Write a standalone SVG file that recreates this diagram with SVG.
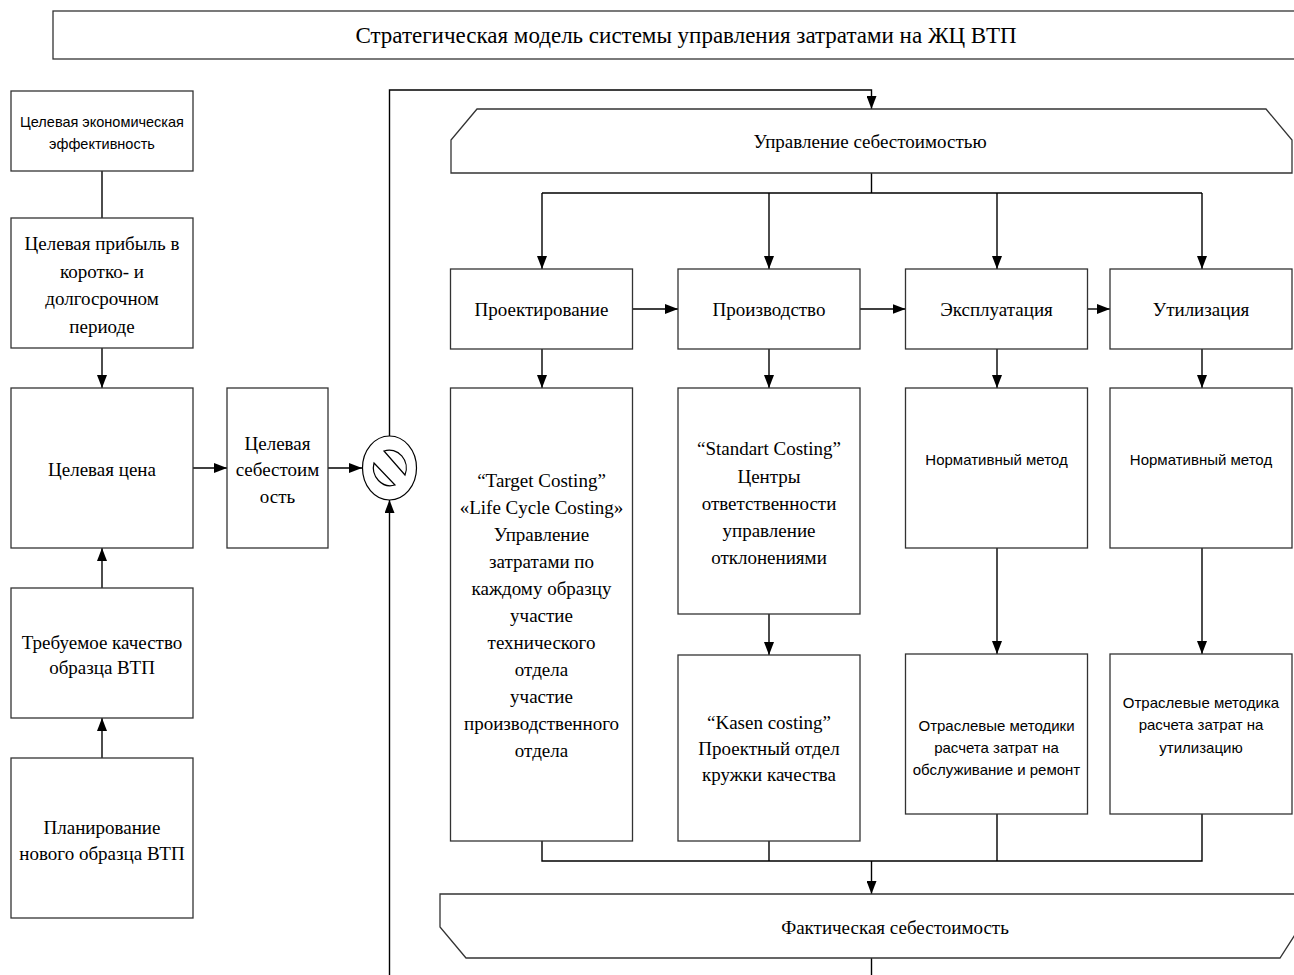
<svg xmlns="http://www.w3.org/2000/svg" width="1294" height="975" viewBox="0 0 1294 975">
<defs>
<style>
.b{fill:#fff;stroke:#333;stroke-width:1.3}
.c{fill:none;stroke:#000;stroke-width:1.4}
.s{font-family:"Liberation Serif","Times New Roman",serif;font-size:19px;fill:#000;text-anchor:middle;dominant-baseline:central}
.n{font-family:"Liberation Sans",Arial,sans-serif;font-size:15px;fill:#000;text-anchor:middle;dominant-baseline:central}
</style>
<marker id="a" markerUnits="userSpaceOnUse" markerWidth="13" markerHeight="10" refX="13" refY="5" orient="auto">
<path d="M0,0 L13,5 L0,10 Z" fill="#000"/>
</marker>
</defs>
<rect width="1294" height="975" fill="#fff"/>

<g id="title">
<rect class="b" x="53" y="11" width="1260" height="48"/>
<text class="s" x="686" y="35" style="font-size:23px">Стратегическая модель системы управления затратами на ЖЦ ВТП</text>
</g>

<g id="connectors">
<path class="c" d="M102,171 V218"/>
<path class="c" d="M102,348 V388" marker-end="url(#a)"/>
<path class="c" d="M102,588 V548" marker-end="url(#a)"/>
<path class="c" d="M102,758 V718" marker-end="url(#a)"/>
<path class="c" d="M193,468 H227" marker-end="url(#a)"/>
<path class="c" d="M328,468 H362" marker-end="url(#a)"/>
<path class="c" d="M389.5,436 V90 H871.5 V109" marker-end="url(#a)"/>
<path class="c" d="M389.5,975 V500" marker-end="url(#a)"/>
<path class="c" d="M871.5,173 V193 M542,193 H1202"/>
<path class="c" d="M542,193 V269" marker-end="url(#a)"/>
<path class="c" d="M769,193 V269" marker-end="url(#a)"/>
<path class="c" d="M997,193 V269" marker-end="url(#a)"/>
<path class="c" d="M1202,193 V269" marker-end="url(#a)"/>
<path class="c" d="M632.5,309 H678" marker-end="url(#a)"/>
<path class="c" d="M860,309 H905.5" marker-end="url(#a)"/>
<path class="c" d="M1088,309 H1110" marker-end="url(#a)"/>
<path class="c" d="M542,349 V388" marker-end="url(#a)"/>
<path class="c" d="M769,349 V388" marker-end="url(#a)"/>
<path class="c" d="M997,349 V388" marker-end="url(#a)"/>
<path class="c" d="M1202,349 V388" marker-end="url(#a)"/>
<path class="c" d="M769,614 V655" marker-end="url(#a)"/>
<path class="c" d="M997,548 V654" marker-end="url(#a)"/>
<path class="c" d="M1202,548 V654" marker-end="url(#a)"/>
<path class="c" d="M542,841 V861 H1202 V814 M769,841 V861 M997,814 V861"/>
<path class="c" d="M871.5,861 V894" marker-end="url(#a)"/>
<path class="c" d="M871.5,958 V975"/>
</g>

<g id="n1">
<rect class="b" x="11" y="91" width="182" height="80"/>
<text class="n" x="102" y="122" style="font-size:14.5px">Целевая экономическая</text>
<text class="n" x="102" y="144" style="font-size:14.5px">эффективность</text>
</g>
<g id="n2">
<rect class="b" x="11" y="218" width="182" height="130"/>
<text class="s" x="102" y="243">Целевая прибыль в</text>
<text class="s" x="102" y="271">коротко- и</text>
<text class="s" x="102" y="298">долгосрочном</text>
<text class="s" x="102" y="326">периоде</text>
</g>
<g id="n3">
<rect class="b" x="11" y="388" width="182" height="160"/>
<text class="s" x="102" y="469">Целевая цена</text>
</g>
<g id="n4">
<rect class="b" x="227" y="388" width="101" height="160"/>
<text class="s" x="277.5" y="443">Целевая</text>
<text class="s" x="277.5" y="469">себестоим</text>
<text class="s" x="277.5" y="496">ость</text>
</g>
<g id="n5">
<rect class="b" x="11" y="588" width="182" height="130"/>
<text class="s" x="102" y="642">Требуемое качество</text>
<text class="s" x="102" y="667">образца ВТП</text>
</g>
<g id="n6">
<rect class="b" x="11" y="758" width="182" height="160"/>
<text class="s" x="102" y="827">Планирование</text>
<text class="s" x="102" y="853">нового образца ВТП</text>
</g>

<g id="comparator">
<ellipse cx="389.5" cy="468" rx="27" ry="32" fill="#fff" stroke="#000" stroke-width="1.2"/>
<path d="M384,451 L405,475 A17 18 0 0 0 384,451 Z" fill="#fff" stroke="#000" stroke-width="1.2"/>
<path d="M374,463 L395,485 A17 18 0 0 1 374,463 Z" fill="#fff" stroke="#000" stroke-width="1.2"/>
</g>

<g id="banner-top">
<path class="b" d="M477,109 H1266 L1292,140 V173 H451 V140 Z"/>
<text class="s" x="870" y="141">Управление себестоимостью</text>
</g>

<g id="p1">
<rect class="b" x="450.5" y="269" width="182" height="80"/>
<text class="s" x="541.5" y="309">Проектирование</text>
</g>
<g id="p2">
<rect class="b" x="678" y="269" width="182" height="80"/>
<text class="s" x="769" y="309">Производство</text>
</g>
<g id="p3">
<rect class="b" x="905.5" y="269" width="182" height="80"/>
<text class="s" x="996.5" y="309">Эксплуатация</text>
</g>
<g id="p4">
<rect class="b" x="1110" y="269" width="182" height="80"/>
<text class="s" x="1201" y="309">Утилизация</text>
</g>

<g id="m1">
<rect class="b" x="450.5" y="388" width="182" height="453"/>
<text class="s" x="541.5" y="480">“Target Costing”</text>
<text class="s" x="541.5" y="507">«Life Cycle Costing»</text>
<text class="s" x="541.5" y="534">Управление</text>
<text class="s" x="541.5" y="561">затратами по</text>
<text class="s" x="541.5" y="588">каждому образцу</text>
<text class="s" x="541.5" y="615">участие</text>
<text class="s" x="541.5" y="642">технического</text>
<text class="s" x="541.5" y="669">отдела</text>
<text class="s" x="541.5" y="696">участие</text>
<text class="s" x="541.5" y="723">производственного</text>
<text class="s" x="541.5" y="750">отдела</text>
</g>
<g id="m2">
<rect class="b" x="678" y="388" width="182" height="226"/>
<text class="s" x="769" y="448">“Standart Costing”</text>
<text class="s" x="769" y="476">Центры</text>
<text class="s" x="769" y="503">ответственности</text>
<text class="s" x="769" y="530">управление</text>
<text class="s" x="769" y="557">отклонениями</text>
</g>
<g id="m3">
<rect class="b" x="678" y="655" width="182" height="186"/>
<text class="s" x="769" y="722">“Kasen costing”</text>
<text class="s" x="769" y="748">Проектный отдел</text>
<text class="s" x="769" y="774">кружки качества</text>
</g>
<g id="m4">
<rect class="b" x="905.5" y="388" width="182" height="160"/>
<text class="n" x="996.5" y="459">Нормативный метод</text>
</g>
<g id="m5">
<rect class="b" x="905.5" y="654" width="182" height="160"/>
<text class="n" x="996.5" y="725">Отраслевые методики</text>
<text class="n" x="996.5" y="747">расчета затрат на</text>
<text class="n" x="996.5" y="769">обслуживание и ремонт</text>
</g>
<g id="m6">
<rect class="b" x="1110" y="388" width="182" height="160"/>
<text class="n" x="1201" y="459">Нормативный метод</text>
</g>
<g id="m7">
<rect class="b" x="1110" y="654" width="182" height="160"/>
<text class="n" x="1201" y="702">Отраслевые методика</text>
<text class="n" x="1201" y="724">расчета затрат на</text>
<text class="n" x="1201" y="747">утилизацию</text>
</g>

<g id="banner-bottom">
<path class="b" d="M440,894 H1300 V927 L1280,958 H466 L440,927 Z"/>
<text class="s" x="895" y="927">Фактическая себестоимость</text>
</g>
</svg>
